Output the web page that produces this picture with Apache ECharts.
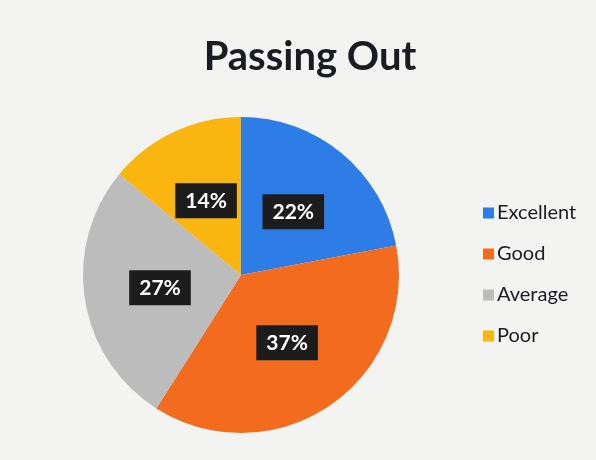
<!DOCTYPE html>
<html><head><meta charset="utf-8">
<script src="https://cdn.jsdelivr.net/npm/echarts@6/dist/echarts.min.js"></script>
<style>html,body{margin:0;padding:0;background:#f3f3f2;}#c{width:596px;height:460px;}</style>
</head><body><div id="c"></div>
<script>
const categories = ["Excellent", "Good", "Average", "Poor"];
const values = [22, 37, 27, 14];
const colors = ["#2e7de6", "#f26b1f", "#bcbcbc", "#fbb511"];

const chart = echarts.init(document.getElementById('c'));
chart.setOption({
  backgroundColor: '#f3f3f2',
  animation: false,
  title: {
    text: 'Passing Out', left: 305, top: 32, textAlign: 'center',
    textStyle: {fontFamily: 'Lato', fontWeight: 'bold', fontSize: 40, color: '#1b1b22'}
  },
  legend: {
    orient: 'vertical', left: 478, top: 198, itemGap: 21,
    itemWidth: 11, itemHeight: 11, icon: 'rect',
    data: categories,
    textStyle: {fontFamily: 'Lato', fontSize: 20, color: '#1b1b22', padding: [0,0,0,-2]}
  },
  series: [{
    type: 'pie', center: [241, 275], radius: 158, startAngle: 90, clockwise: true,
    data: categories.map((c, i) => ({name: c, value: values[i], itemStyle: {color: colors[i]}})),
    label: {
      position: 'inside', formatter: '{c}%',
      backgroundColor: '#1c1c1c', padding: [8, 10, 6, 10],
      color: '#fff', fontFamily: 'Lato', fontWeight: 'bold', fontSize: 21
    },
    labelLine: {show: false},
    emphasis: {disabled: true}
  }]
});
</script></body></html>
